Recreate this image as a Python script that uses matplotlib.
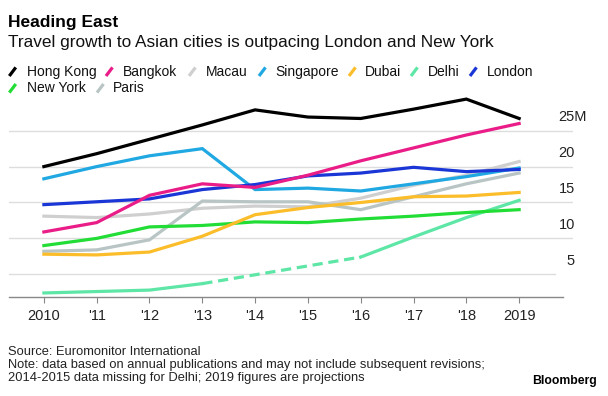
import matplotlib
matplotlib.use("Agg")
import matplotlib.pyplot as plt
import matplotlib.transforms as mtransforms
from matplotlib.lines import Line2D
import numpy as np

plt.rcParams['font.family'] = ['Liberation Sans', 'DejaVu Sans']

# data (millions of international arrivals)
years = [2010, 2011, 2012, 2013, 2014, 2015, 2016, 2017, 2018, 2019]
year_labels = ['2010', "'11", "'12", "'13", "'14", "'15", "'16", "'17", "'18", '2019']

hong_kong = [20.0, 21.8, 23.8, 25.8, 27.9, 26.9, 26.7, 28.0, 29.4, 26.7]
bangkok = [10.9, 12.2, 16.0, 17.6, 17.1, 18.8, 20.8, 22.6, 24.4, 26.0]
macau = [13.1, 12.9, 13.4, 14.2, 14.5, 14.4, 15.6, 17.4, 18.8, 20.7]
singapore = [18.3, 20.0, 21.5, 22.5, 16.8, 17.0, 16.6, 17.6, 18.6, 19.8]
dubai = [7.8, 7.7, 8.1, 10.3, 13.3, 14.3, 15.0, 15.8, 15.9, 16.4]
delhi = [2.4, 2.6, 2.8, 3.7, np.nan, np.nan, 7.4, 10.2, 12.9, 15.3]
london = [14.7, 15.1, 15.5, 16.8, 17.5, 18.7, 19.1, 19.9, 19.3, 19.6]
new_york = [9.0, 10.0, 11.6, 11.8, 12.3, 12.2, 12.7, 13.1, 13.6, 14.0]
paris = [8.2, 8.4, 9.8, 15.2, 15.1, 15.1, 14.0, 15.8, 17.6, 19.1]

y_ticks = [5, 10, 15, 20, 25]
y_tick_labels = ['5', '10', '15', '20', '25M']

series = [
    ('Macau', macau, '#cfcfcf'),
    ('Paris', paris, '#b8c5c4'),
    ('Delhi', delhi, '#5ee6a6'),
    ('New York', new_york, '#22dd35'),
    ('Dubai', dubai, '#fbbd2a'),
    ('Singapore', singapore, '#20a8e2'),
    ('London', london, '#1b36d6'),
    ('Bangkok', bangkok, '#ea1d88'),
    ('Hong Kong', hong_kong, '#000000'),
]
colors = {name: c for name, _, c in series}

W, H = 608, 396
fig = plt.figure(figsize=(W / 100, H / 100), dpi=100)


def px(x, y):
    # pixel position (from top-left) to figure fraction
    return x / W, 1 - y / H


ax_left, ax_right, ax_top, ax_bottom = 8.5, 573, 91.2, 296.7
ax = fig.add_axes([ax_left / W, 1 - ax_bottom / H,
                   (ax_right - ax_left) / W, (ax_bottom - ax_top) / H])
ax.set_xlim(2009.33, 2020.02)
ax.set_ylim(1.88, 30.5)
for s in ax.spines.values():
    s.set_visible(False)
ax.set_yticks([])

# gridlines + labels on the right
for v, lab in zip(y_ticks, y_tick_labels):
    xmax = (555 - ax_left) / (ax_right - ax_left) if v == 5 else 1
    ax.axhline(v, xmin=0, xmax=xmax, color='#dddddd', lw=1, zorder=0)
    trans = mtransforms.offset_copy(ax.get_yaxis_transform(), fig=fig, x=0, y=9.5, units='points')
    xpos = (575 - ax_left) / (ax_right - ax_left)
    if lab.endswith('M'):
        xpos = (587 - ax_left) / (ax_right - ax_left)
    ax.text(xpos, v, lab, transform=trans, ha='right', va='center', fontsize=10.5, color='#222222', clip_on=False)

# baseline
ax.axhline(1.88, xmin=0, xmax=(563 - ax_left) / (ax_right - ax_left), color='#888888', lw=1, clip_on=False)
ax.set_xticks(years)
ax.set_xticklabels(year_labels, fontsize=10.5, color='#222222')
ax.tick_params(axis='x', length=4, width=0.8, color='#888888', pad=5)

for name, vals, c in series:
    ax.plot(years, vals, color=c, lw=2.3, solid_joinstyle='miter', zorder=2)
    if name == 'Delhi':
        # dashed over the missing years
        d = np.array(vals)
        gap = np.where(np.isnan(d))[0]
        i0, i1 = gap[0] - 1, gap[-1] + 1
        ax.plot([years[i0], years[i1]], [d[i0], d[i1]], color=c, lw=2.3, ls=(0, (3.2, 1.8)), zorder=2)

# titles
fig.text(*px(8.5, 26.5), 'Heading East', fontsize=12.5, fontweight='bold', va='baseline')
fig.text(*px(8.5, 46.5), 'Travel growth to Asian cities is outpacing London and New York',
         fontsize=12.4, va='baseline', color='#111111')

# legend
legend_pos = [
    ('Hong Kong', 9.3, 26.7, 71.7), ('Bangkok', 106, 122.7, 71.7), ('Macau', 189, 205.7, 71.7),
    ('Singapore', 259, 275, 71.7), ('Dubai', 349, 364.5, 71.7), ('Delhi', 411, 427.5, 71.7),
    ('London', 470, 486.5, 71.7), ('New York', 9.3, 26.7, 88.3), ('Paris', 97, 113, 88.3),
]
for name, mx, tx, ty in legend_pos:
    x0, y0 = px(mx, ty + 4.3)
    x1, y1 = px(mx + 6.5, ty - 4.3)
    fig.add_artist(Line2D([x0, x1], [y0, y1], color=colors[name], lw=2.3, solid_capstyle='butt'))
    fig.text(*px(tx, ty), name, fontsize=10, va='center', color='#111111')

# footer
fig.text(*px(8.5, 351.7), 'Source: Euromonitor International', fontsize=9.3, va='center', color='#222222')
fig.text(*px(8.5, 364.6), 'Note: data based on annual publications and may not include subsequent revisions;',
         fontsize=9.3, va='center', color='#222222')
fig.text(*px(8.5, 377.7), '2014-2015 data missing for Delhi; 2019 figures are projections',
         fontsize=9.3, va='center', color='#222222')
fig.text(*px(597, 381), 'Bloomberg', fontsize=8.8, fontweight='bold', ha='right', va='center')

fig.savefig('out.png', dpi=100)
